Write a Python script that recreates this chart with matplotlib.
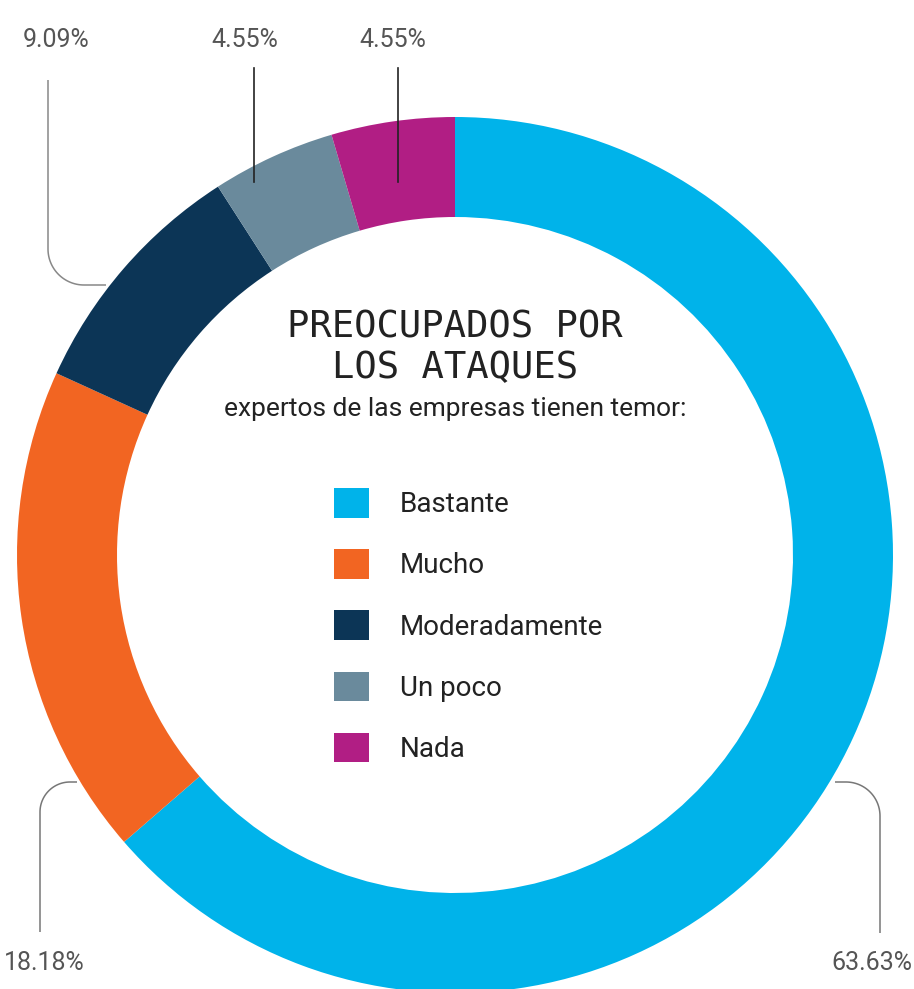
import numpy as np
import matplotlib.pyplot as plt

categories = ["Bastante", "Mucho", "Moderadamente", "Un poco", "Nada"]
values = [63.63, 18.18, 9.09, 4.55, 4.55]
colors = ["#00b3ea", "#f26522", "#0c3556", "#6a8a9c", "#b11e84"]

W, H = 914, 989
narrow = ["Liberation Sans Narrow", "Roboto", "DejaVu Sans"]

fig = plt.figure(figsize=(W / 100, H / 100), dpi=100)
ax = fig.add_axes([0, 0, 1, 1])

# donut, pixel coordinates with y going up
cx, cy = 455, H - 555
wedges, _ = ax.pie(values, colors=colors, startangle=90, counterclock=False,
                   center=(cx, cy), radius=438,
                   wedgeprops=dict(width=100, linewidth=0))
ax.set_xlim(0, W)
ax.set_ylim(0, H)
ax.set_aspect("equal")
ax.axis("off")


def elbow(x0, y0, x1, y1, r, color):
    # vertical from (x0, y0) then rounded corner into horizontal ending at (x1, y1)
    sy = np.sign(y1 - y0)
    sx = np.sign(x1 - x0)
    t = np.linspace(0, np.pi / 2, 30)
    ccx, ccy = x0 + sx * r, y1 - sy * r
    ax_ = ccx - sx * r * np.cos(t)
    ay_ = ccy + sy * r * np.sin(t)
    xs = np.concatenate([[x0], ax_, [x1]])
    ys = np.concatenate([[y0], ay_, [y1]])
    ax.plot(xs, H - ys, color=color, lw=1.1, solid_capstyle="butt")


labels = [f"{v:.2f}%" for v in values]

# leader lines
ax.plot([398, 398], [H - 68, H - 182], color="#222222", lw=1.2)
ax.plot([254, 254], [H - 68, H - 182], color="#222222", lw=1.2)
elbow(48, 80, 106, 285, 36, "#888888")
elbow(40, 932, 77, 782, 30, "#777777")
elbow(880, 933, 835, 782, 34, "#777777")

pct_pos = [(872, 963), (44, 963), (56, 40), (245, 40), (393, 40)]
for lab, (x, y) in zip(labels, pct_pos):
    ax.text(x, H - y, lab, ha="center", va="center", fontsize=18,
            color="#555555", family=narrow)

ax.text(cx, H - 327, "PREOCUPADOS POR", ha="center", va="center",
        fontsize=26.8, color="#222222", family="DejaVu Sans Mono")
ax.text(cx, H - 368, "LOS ATAQUES", ha="center", va="center",
        fontsize=26.8, color="#222222", family="DejaVu Sans Mono")
ax.text(cx, H - 409, "expertos de las empresas tienen temor:", ha="center",
        va="center", fontsize=19, color="#222222", family=narrow)

ax.legend(wedges, categories, loc="upper left",
          bbox_to_anchor=(334 / W, 1 - 488 / H), frameon=False,
          prop={"family": narrow, "size": 20}, labelcolor="#222222",
          handlelength=1.26, handleheight=1.26, handletextpad=1.1,
          labelspacing=1.12, borderpad=0, borderaxespad=0)

plt.savefig("out.png", dpi=100)
